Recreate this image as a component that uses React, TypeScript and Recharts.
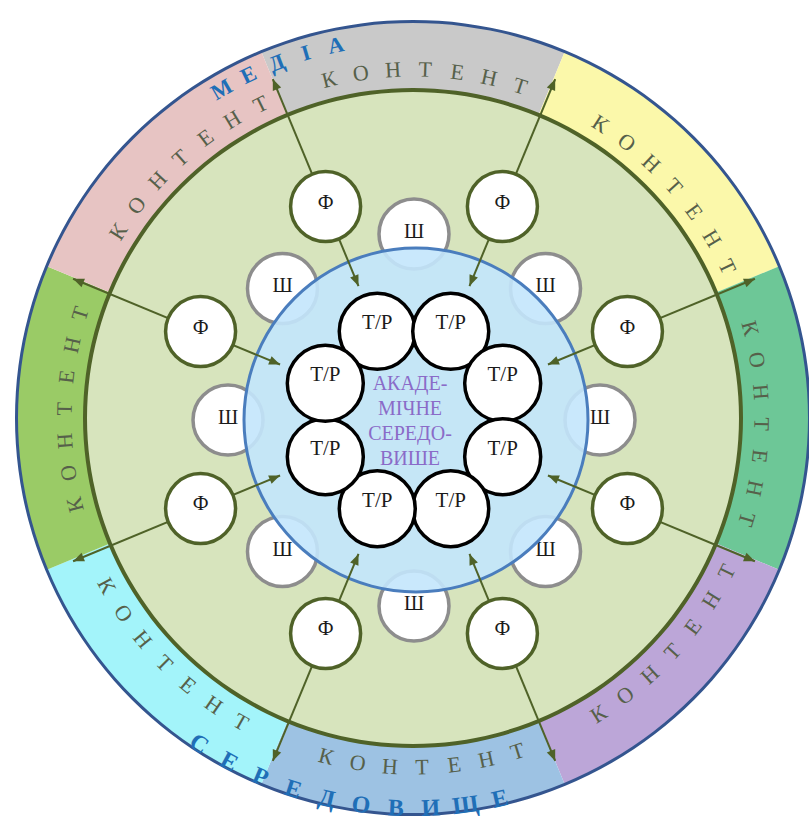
import React from 'react';
import { PieChart, Pie, Cell, ScatterChart, Scatter, XAxis, YAxis } from 'recharts';

const W = 809;
const H = 822;
const RAD = Math.PI / 180;
const FONT = "'Liberation Serif', 'Times New Roman', serif";

// ring centre (px) and origin of the overlay plane (px)
const CX = 413;
const CY = 418;
const OX = 414;
const OY = 420;

// outer ring, clockwise from the top
const segmentNames = ['top', 'upperRight', 'right', 'lowerRight', 'bottom', 'lowerLeft', 'left', 'upperLeft'];
const segmentColors = ['#c9c9c9', '#fbf8aa', '#6dc797', '#bca6d8', '#9dc2e3', '#a3f4fa', '#9acb66', '#e7c4c3'];
const segmentWord = 'КОНТЕНТ';
// how far (deg) the word sits from the middle of its segment
const wordShift = [-2, -3.4, -1, 3, 1.5, -0.4, -1.5, -3.2];

// small circles: angle of each one around the centre
const trAngles = [112.5, 67.5, 22.5, -22.5, -67.5, -112.5, -157.5, 157.5];
const fAngles = [112.5, 67.5, 22.5, -22.5, -67.5, -112.5, -157.5, 157.5];
const shAngles = [90, 45, 0, -45, -90, -135, 180, 135];

const centerLines = ['АКАДЕ-', 'МІЧНЕ', 'СЕРЕДО-', 'ВИШЕ'];

const captions = [
  { text: 'МЕДІА', mid: 111, step: 4.6, r: 383, outward: true, size: 22 },
  { text: 'СЕРЕДОВИЩЕ', mid: -100.4, step: 5.15, r: 388, outward: false, size: 24 },
];

const R_OUTER = 397;
const R_GREEN = 328;
const R_WORD = 349;
const R_BLUE = 172;
const R_TR = 96;
const R_F = 231;
const R_SH = 186;
const R_OUT_TIP = 369;
const R_IN_TIP = 145;

const GREEN_LINE = '#4f6228';

const polar = (r: number, deg: number) => ({ x: r * Math.cos(deg * RAD), y: r * Math.sin(deg * RAD) });

const ringData = segmentNames.map((name, i) => ({ name, value: 1, color: segmentColors[i] }));
const one = [{ name: 'disc', value: 1 }];

const shData = shAngles.map((a) => ({ ...polar(R_SH, a), kind: 'Ш' }));
const fData = fAngles.map((a) => ({ ...polar(R_F, a), kind: 'Ф' }));
const trData = trAngles.map((a) => ({ ...polar(R_TR, a), kind: 'Т/Р' }));

const arrows = fAngles.flatMap((a) => [
  [{ ...polar(R_F, a) }, { ...polar(R_OUT_TIP, a), tip: true, dir: a }],
  [{ ...polar(R_F, a) }, { ...polar(R_IN_TIP, a), tip: true, dir: a + 180 }],
]);

const captionLetters = captions.flatMap((c) =>
  c.text.split('').map((ch, i) => {
    const off = (i - (c.text.length - 1) / 2) * c.step;
    const th = c.outward ? c.mid - off : c.mid + off;
    return { ...polar(c.r, th), ch, rot: c.outward ? 90 - th : -90 - th, size: c.size };
  })
);

const BUBBLE: Record<string, { r: number; stroke: string; dy: number; size: number }> = {
  'Ф': { r: 35, stroke: GREEN_LINE, dy: -5, size: 20 },
  'Ш': { r: 35, stroke: '#8d8d8d', dy: -3, size: 20 },
  'Т/Р': { r: 38, stroke: '#000000', dy: -9, size: 21 },
};

const Bubble = (p: any) => {
  const s = BUBBLE[p.payload.kind];
  return (
    <g>
      <circle cx={p.cx} cy={p.cy} r={s.r} fill="#ffffff" stroke={s.stroke} strokeWidth={3.5} />
      <text x={p.cx} y={p.cy + s.dy} textAnchor="middle" dominantBaseline="central" fontFamily={FONT} fontSize={s.size} fill="#1a1a1a">
        {p.payload.kind}
      </text>
    </g>
  );
};

const ArrowHead = (p: any) => {
  if (!p.payload.tip) return <g />;
  return (
    <path d="M0,0 L-11,-4.5 L-11,4.5 Z" fill={GREEN_LINE} transform={`translate(${p.cx},${p.cy}) rotate(${-p.payload.dir})`} />
  );
};

const Letter = (p: any) => {
  const d = p.payload;
  return (
    <text x={p.cx} y={p.cy} textAnchor="middle" dominantBaseline="central" fontFamily={FONT} fontWeight="bold" fontSize={d.size} fill="#1f6fb7" transform={`rotate(${d.rot} ${p.cx} ${p.cy})`}>
      {d.ch}
    </text>
  );
};

// word written along each ring segment
const renderWord = (props: any) => {
  const { cx, cy, midAngle, index } = props;
  const m = ((midAngle % 360) + 360) % 360 + wordShift[index];
  const outward = Math.sin(m * RAD) > -0.5;
  const step = 5.3;
  const letters = segmentWord.split('');
  return (
    <g key={`w${index}`}>
      {letters.map((ch, i) => {
        const off = (i - (letters.length - 1) / 2) * step;
        const th = outward ? m - off : m + off;
        const x = cx + R_WORD * Math.cos(th * RAD);
        const y = cy - R_WORD * Math.sin(th * RAD);
        const rot = outward ? 90 - th : -90 - th;
        return (
          <text key={i} x={x} y={y} textAnchor="middle" dominantBaseline="central" fontFamily={FONT} fontSize={22} fill="#56604a" transform={`rotate(${rot} ${x} ${y})`}>
            {ch}
          </text>
        );
      })}
    </g>
  );
};

const renderCenter = (props: any) => {
  const { cx, cy } = props;
  return (
    <g key="center">
      {centerLines.map((t, i) => (
        <text key={t} x={cx - 6} y={cy - 37 + i * 25} textAnchor="middle" dominantBaseline="central" fontFamily={FONT} fontSize={20} fill="#8a6bc8">
          {t}
        </text>
      ))}
    </g>
  );
};

const layer: React.CSSProperties = { position: 'absolute', left: 0, top: 0 };

function Plane({ children }: { children: React.ReactNode }) {
  return (
    <div style={layer}>
      <ScatterChart width={W} height={H} margin={{ top: 0, right: 0, bottom: 0, left: 0 }}>
        <XAxis type="number" dataKey="x" domain={[-OX, W - OX]} allowDataOverflow hide />
        <YAxis type="number" dataKey="y" domain={[OY - H, OY]} allowDataOverflow hide />
        {children}
      </ScatterChart>
    </div>
  );
}

export default function App() {
  return (
    <div style={{ position: 'absolute', left: 0, top: 0, width: W, height: H, background: '#ffffff', overflow: 'hidden' }}>
      <div style={layer}>
        <PieChart width={W} height={H} margin={{ top: 0, right: 0, bottom: 0, left: 0 }}>
          <Pie data={one} dataKey="value" cx={CX} cy={CY} innerRadius={0} outerRadius={R_GREEN} fill="#d7e4bd" stroke="none" isAnimationActive={false} />
          <Pie
            data={ringData}
            dataKey="value"
            cx={CX}
            cy={CY}
            innerRadius={R_GREEN}
            outerRadius={R_OUTER}
            startAngle={112.5}
            endAngle={-247.5}
            stroke="none"
            label={renderWord}
            labelLine={false}
            isAnimationActive={false}
          >
            {ringData.map((d) => (
              <Cell key={d.name} fill={d.color} />
            ))}
          </Pie>
          <Pie data={one} dataKey="value" cx={CX} cy={CY} innerRadius={R_OUTER - 2} outerRadius={R_OUTER + 1} fill="#34558f" stroke="none" isAnimationActive={false} />
          <Pie data={one} dataKey="value" cx={CX} cy={CY} innerRadius={R_GREEN - 2} outerRadius={R_GREEN + 2} fill={GREEN_LINE} stroke="none" isAnimationActive={false} />
        </PieChart>
      </div>

      <Plane>
        <Scatter data={shData} shape={Bubble} isAnimationActive={false} />
      </Plane>

      <div style={layer}>
        <PieChart width={W} height={H} margin={{ top: 0, right: 0, bottom: 0, left: 0 }}>
          <Pie data={one} dataKey="value" cx={416} cy={420} innerRadius={0} outerRadius={R_BLUE} fill="#c3e5fc" fillOpacity={0.9} stroke="none" label={renderCenter} labelLine={false} isAnimationActive={false} />
          <Pie data={one} dataKey="value" cx={416} cy={420} innerRadius={R_BLUE - 1.5} outerRadius={R_BLUE + 1.5} fill="#4a7dbd" stroke="none" isAnimationActive={false} />
        </PieChart>
      </div>

      <Plane>
        {arrows.map((a, i) => (
          <Scatter key={`a${i}`} data={a} shape={ArrowHead} line={{ stroke: GREEN_LINE, strokeWidth: 2 }} isAnimationActive={false} />
        ))}
        <Scatter data={fData} shape={Bubble} isAnimationActive={false} />
        <Scatter data={trData} shape={Bubble} isAnimationActive={false} />
        <Scatter data={captionLetters} shape={Letter} isAnimationActive={false} />
      </Plane>
    </div>
  );
}
